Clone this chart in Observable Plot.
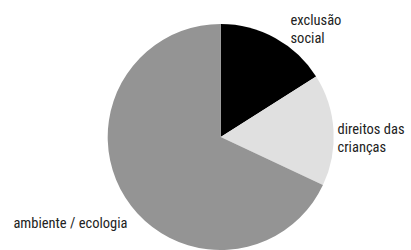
<!DOCTYPE html>
<html>
<head>
<meta charset="utf-8">
<script src="https://cdn.jsdelivr.net/npm/d3@7"></script>
<script src="https://cdn.jsdelivr.net/npm/@observablehq/plot@0.6"></script>
<style>
  html, body { margin: 0; padding: 0; background: #fff; }
  #chart svg { display: block; }
</style>
</head>
<body>
<div id="chart"></div>
<script>
// ---- data ----
const categories = ["exclusão social", "direitos das crianças", "ambiente / ecologia"];
const values = [16, 16, 68];
const labels = ["exclusão\nsocial", "direitos das\ncrianças", "ambiente / ecologia"];
const colors = ["#000000", "#e0e0e0", "#949494"];

// ---- layout ----
const W = 411, H = 250;
const cx = 220.7, cy = 137, R = 113;
const fontFamily = "'Roboto Condensed', Roboto, sans-serif";
const fontSize = 14.5;
const anchors = ["start", "start", "end"];
const labelPos = [
  {x: 290, y: 28},
  {x: 337, y: 137},
  {x: 127, y: 222}
];

const table = categories.map((c, i) => ({category: c, value: values[i], label: labels[i]}));
const arcs = d3.pie().sort(null).value(d => d.value).startAngle(0).endAngle(2 * Math.PI)(table);
const arcGen = d3.arc().innerRadius(0).outerRadius(R);
const labelData = table.map((d, i) => ({...d, x: labelPos[i].x, y: labelPos[i].y, anchor: anchors[i]}));

const pieMark = (index, scales) => {
  const g = d3.create("svg:g").attr("transform", `translate(${scales.x(cx)},${scales.y(cy)})`);
  g.selectAll("path")
    .data(arcs)
    .join("path")
    .attr("d", arcGen)
    .attr("fill", d => scales.color(d.data.category));
  return g.node();
};

const chart = Plot.plot({
  width: W,
  height: H,
  margin: 0,
  style: {fontFamily, fontSize: fontSize + "px", background: "#fff"},
  x: {domain: [0, W], range: [0, W], axis: null},
  y: {domain: [0, H], range: [0, H], axis: null},
  color: {domain: categories, range: colors},
  marks: [
    pieMark,
    Plot.text(labelData.filter(d => d.anchor === "start"), {
      x: "x", y: "y", text: "label", textAnchor: "start", lineHeight: 1.2,
      fill: "#222", fontSize
    }),
    Plot.text(labelData.filter(d => d.anchor === "end"), {
      x: "x", y: "y", text: "label", textAnchor: "end", lineHeight: 1.2,
      fill: "#222", fontSize
    })
  ]
});
document.getElementById("chart").appendChild(chart);
</script>
</body>
</html>
